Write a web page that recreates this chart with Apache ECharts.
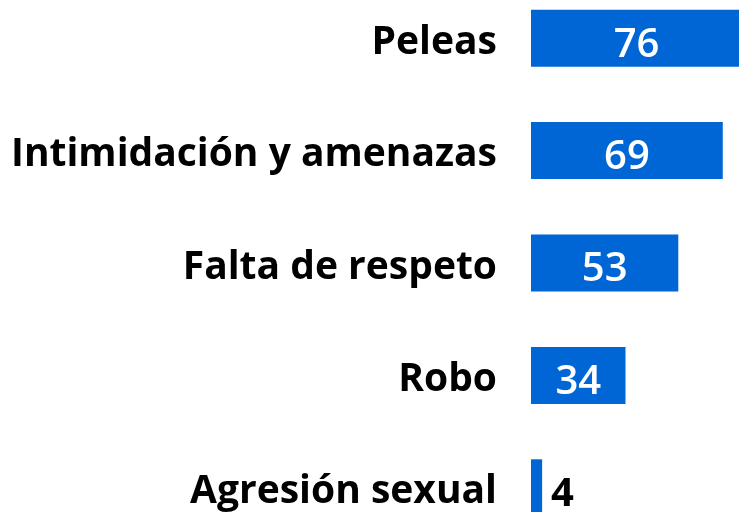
<!DOCTYPE html>
<html>
<head>
<meta charset="utf-8">
<script src="https://cdn.jsdelivr.net/npm/echarts@6/dist/echarts.min.js"></script>
<style>
  html, body { margin: 0; padding: 0; background: #ffffff; overflow: hidden; width: 739px; height: 512px; }
  /* the plot runs slightly past the page edges on the right and at the top/bottom */
  #chart { position: absolute; left: 0; top: -18px; width: 745px; height: 562px; }
</style>
</head>
<body>
<div id="chart"></div>
<script>
// Incident types, listed top to bottom
const categories = ['Peleas', 'Intimidación y amenazas', 'Falta de respeto', 'Robo', 'Agresión sexual'];
const counts = [76, 69, 53, 34, 4];

const FONT = '"Open Sans", sans-serif';
const BLUE = '#0066D6';

const chart = echarts.init(document.getElementById('chart'));

chart.setOption({
  animation: false,
  grid: { left: 531, right: 0, top: 0, bottom: 0, containLabel: false },
  xAxis: {
    type: 'value', min: 0, max: 77,
    show: false
  },
  yAxis: {
    type: 'category',
    inverse: true,
    data: categories,
    axisLine: { show: false },
    axisTick: { show: false },
    axisLabel: {
      margin: 34,
      formatter: v => '{c|' + v + '}',
      rich: {
        c: {
          color: '#000000',
          fontFamily: FONT,
          fontWeight: 'bold',
          fontSize: 39,
          padding: [9, 0, 0, 0]
        }
      }
    }
  },
  series: [{
    type: 'bar',
    barWidth: 57,
    itemStyle: { color: BLUE },
    data: counts.map(v => ({
      value: v,
      label: v < 10
        ? { position: 'right', color: '#000000', distance: 9, fontWeight: 'bold' }
        : { position: 'inside', color: '#ffffff' }
    })),
    label: {
      show: true,
      fontFamily: FONT,
      fontWeight: 600,
      fontSize: 40,
      offset: [0, 7]
    }
  }]
});
</script>
</body>
</html>
